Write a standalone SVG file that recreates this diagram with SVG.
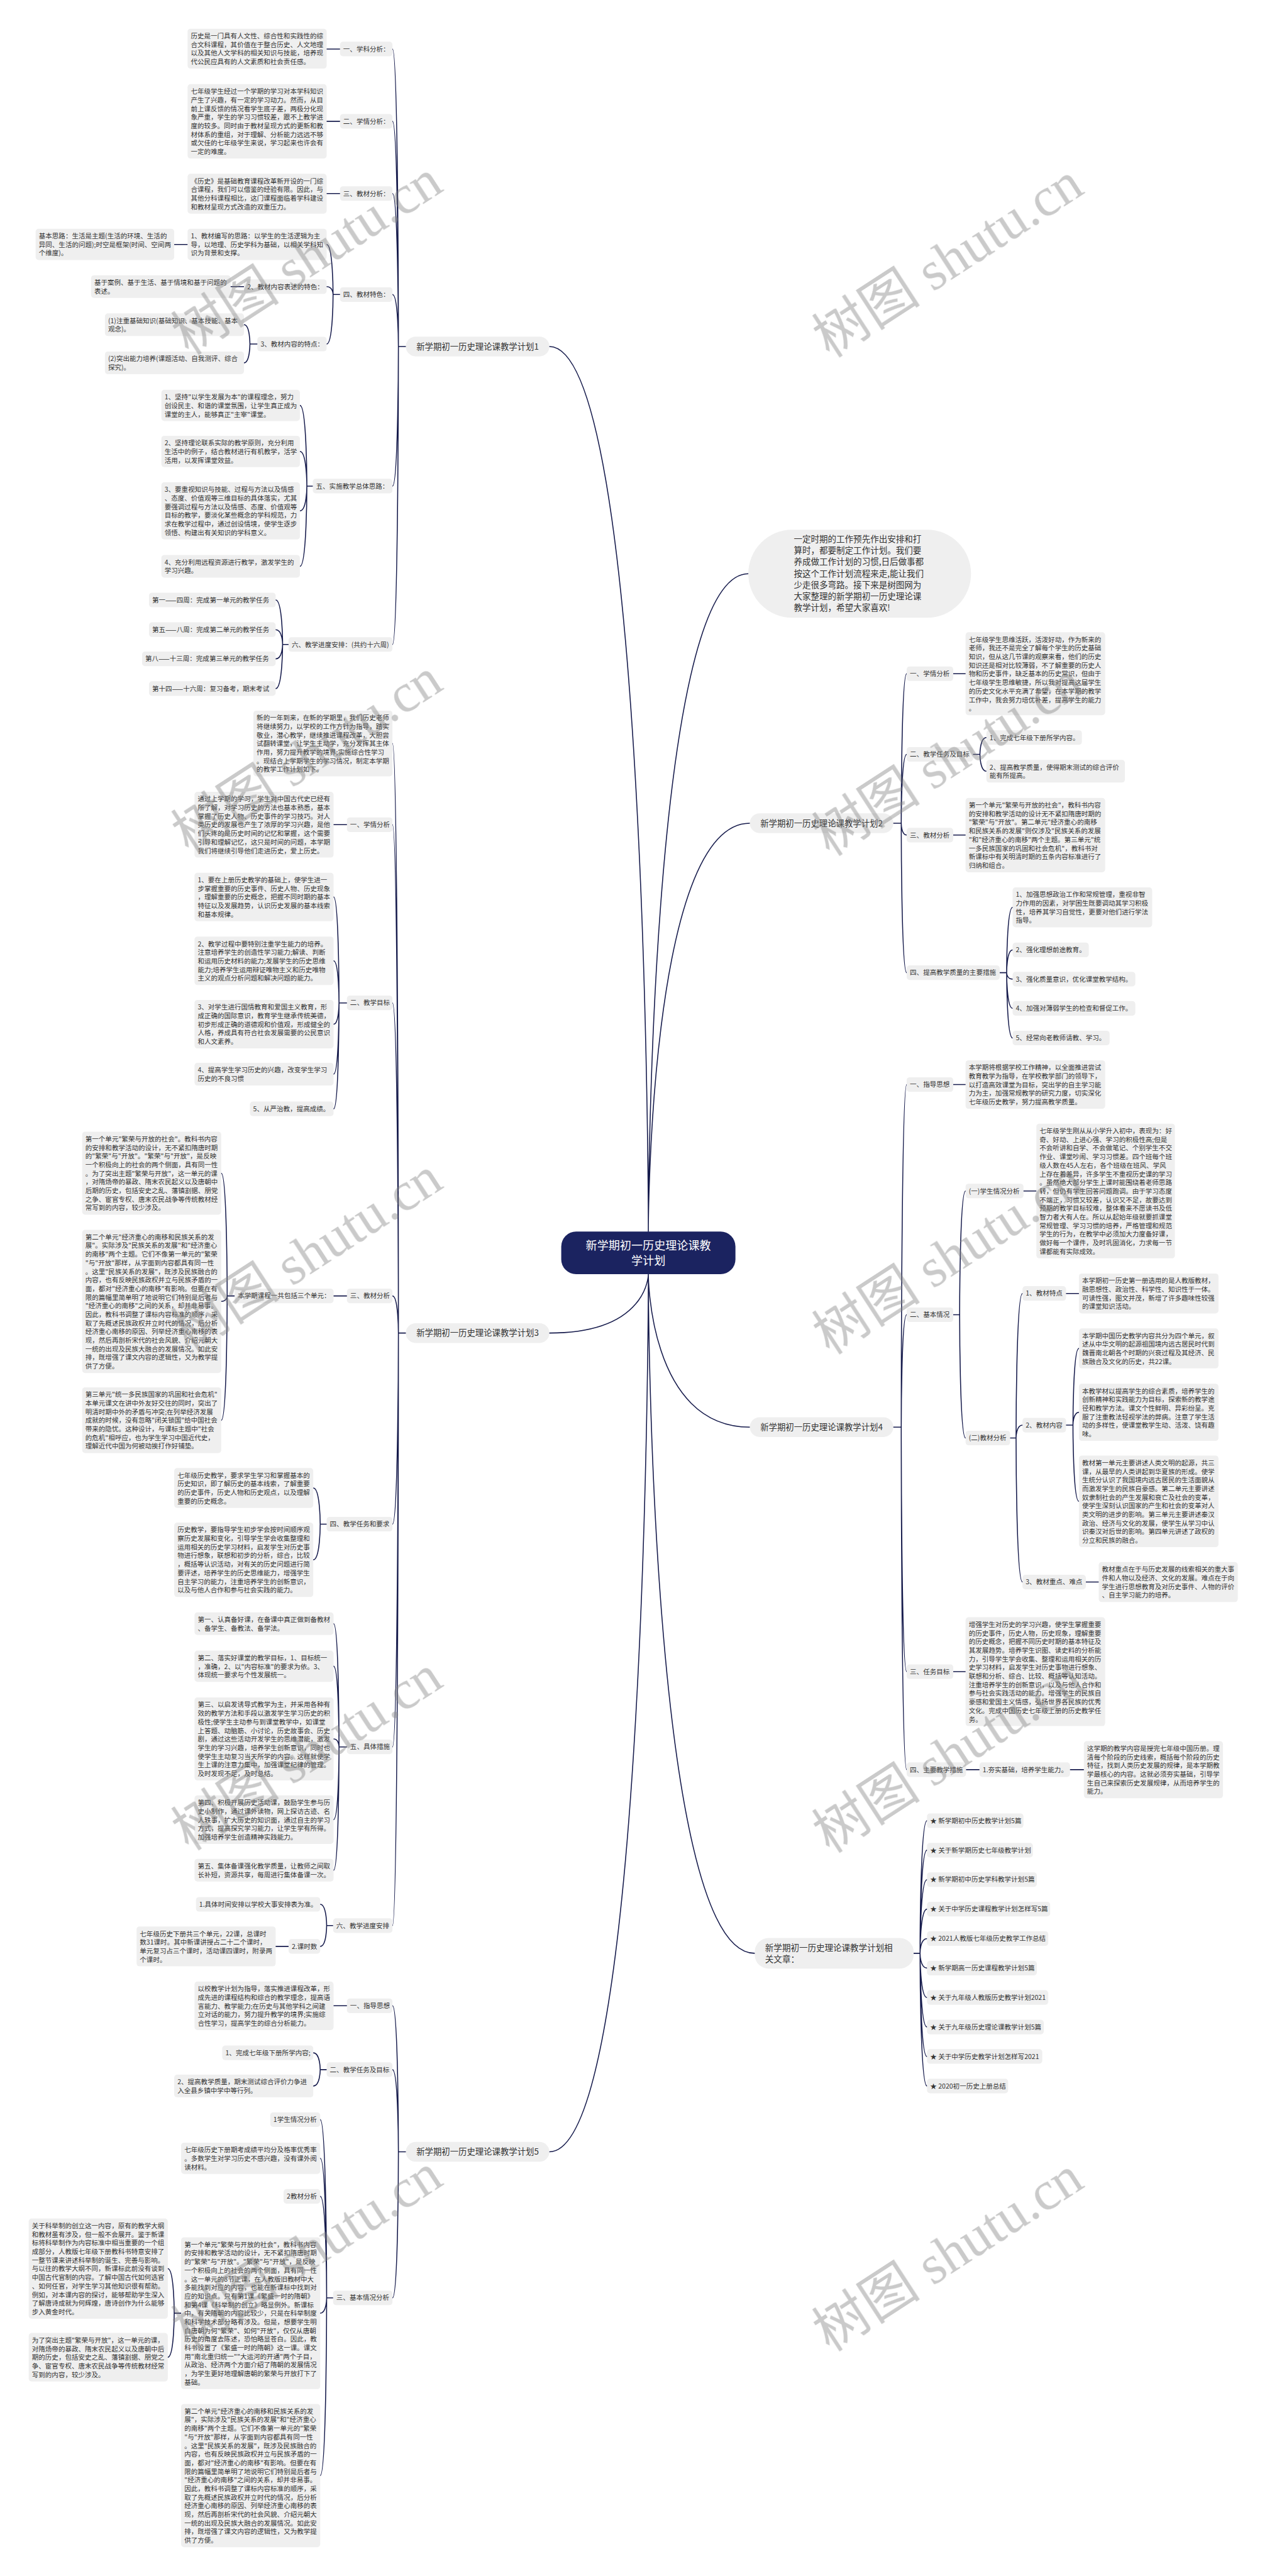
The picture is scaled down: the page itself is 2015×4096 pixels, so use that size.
<svg xmlns="http://www.w3.org/2000/svg" width="2015" height="4096" viewBox="0 0 2015 4096">
<defs><style>
.b{fill:#efefef}
.t{font-family:"Noto Sans CJK SC","Noto Sans",sans-serif;font-size:13.4px;fill:#333}
.p{font-family:"Noto Sans CJK SC","Noto Sans",sans-serif;font-size:17px;fill:#333;text-anchor:middle}
.q{font-family:"Noto Sans CJK SC","Noto Sans",sans-serif;font-size:17.2px;fill:#333}
.r{font-family:"Noto Sans CJK SC","Noto Sans",sans-serif;font-size:23px;fill:#fff;text-anchor:middle}
.c{fill:none;stroke:#161b4c;stroke-width:2;stroke-linecap:round}
.w{font-family:"Liberation Serif","Noto Sans CJK SC",serif;font-size:110px;fill:#808080;opacity:.42;text-anchor:middle}
</style></defs>
<rect width="2015" height="4096" fill="#fff"/>
<g transform="scale(0.7871)">
<g id="connectors" class="c">
<path d="M1310,2488C1310,2488 1310,700 1110,700M1310,2574C1310,2574 1310,2693 1110,2693M1310,2574C1310,2574 1310,4347 1110,4347M1310,2488C1310,2488 1310,1159 1512,1159M1310,2488C1310,2488 1310,1663 1515,1663M1310,2574C1310,2574 1310,2883 1515,2883M1310,2574C1310,2574 1310,3946 1525,3946"/>
<path d="M820,700H805C805,700 805,99 793,99M805,700C805,700 805,245 793,245M805,700C805,700 805,391 793,391M805,700C805,700 805,595 793,595M805,700C805,700 805,982 793,982M805,700C805,700 805,1302 793,1302"/>
<path d="M687,99H660M687,245H660M687,391H660M687,595H673C673,595 673,494 660,494M673,595C673,595 673,579 660,579M673,595C673,595 673,695 660,695M379,494H352M493,579H466M520,695H505C505,695 505,656 493,656M505,695C505,695 505,733 493,733M632,982H620C620,982 620,819 606,819M620,982C620,982 620,912 606,912M620,982C620,982 620,1032 606,1032M620,982C620,982 620,1144 606,1144M583,1302H571C571,1302 571,1212 557,1212M571,1302C571,1302 571,1272 557,1272M571,1302C571,1302 571,1331 557,1331M571,1302C571,1302 571,1391 557,1391"/>
<path d="M820,2693H805C805,2693 805,1502 793,1502M805,2693C805,2693 805,1666 793,1666M805,2693C805,2693 805,2026 793,2026M805,2693C805,2693 805,2618 793,2618M805,2693C805,2693 805,3079 793,3079M805,2693C805,2693 805,3529 793,3529M805,2693C805,2693 805,3890 793,3890"/>
<path d="M701,1666H674M701,2026H685C685,2026 685,1812 674,1812M685,2026C685,2026 685,1941 674,1941M685,2026C685,2026 685,2069 674,2069M685,2026C685,2026 685,2170 674,2170M685,2026C685,2026 685,2240 674,2240M701,2618H674M474,2618H459C459,2618 459,2370 447,2370M459,2618C459,2618 459,2629 447,2629M459,2618C459,2618 459,2869 447,2869M660,3079H647C647,3079 647,3006 633,3006M647,3079C647,3079 647,3151 633,3151M701,3529H685C685,3529 685,3280 674,3280M685,3529C685,3529 685,3366 674,3366M685,3529C685,3529 685,3513 674,3513M685,3529C685,3529 685,3676 674,3676M685,3529C685,3529 685,3778 674,3778M673,3890H660C660,3890 660,3847 647,3847M660,3890C660,3890 660,3932 647,3932M583,3932H557"/>
<path d="M820,4347H805C805,4347 805,4052 793,4052M805,4347C805,4347 805,4181 793,4181M805,4347C805,4347 805,4642 793,4642M701,4052H674M660,4181H647C647,4181 647,4147 633,4147M647,4181C647,4181 647,4214 633,4214M673,4642H660C660,4642 660,4282 647,4282M660,4642C660,4642 660,4360 647,4360M660,4642C660,4642 660,4437 647,4437M660,4642C660,4642 660,4673 647,4673M660,4642C660,4642 660,5001 647,5001M366,4673H352C352,4673 352,4583 339,4583M352,4673C352,4673 352,4762 339,4762"/>
<path d="M1805,1663H1821C1821,1663 1821,1361 1832,1361M1821,1663C1821,1663 1821,1524 1832,1524M1821,1663C1821,1663 1821,1687 1832,1687M1821,1663C1821,1663 1821,1965 1832,1965M1926,1361H1951M1926,1687H1951M1966,1524H1980C1980,1524 1980,1490 1993,1490M1980,1524C1980,1524 1980,1558 1993,1558M2020,1965H2034C2034,1965 2034,1833 2046,1833M2034,1965C2034,1965 2034,1919 2046,1919M2034,1965C2034,1965 2034,1978 2046,1978M2034,1965C2034,1965 2034,2037 2046,2037M2034,1965C2034,1965 2034,2097 2046,2097"/>
<path d="M1805,2883H1821C1821,2883 1821,2191 1832,2191M1821,2883C1821,2883 1821,2656 1832,2656M1821,2883C1821,2883 1821,3377 1832,3377M1821,2883C1821,2883 1821,3575 1832,3575M1926,2191H1951M1926,3377H1951M1926,2656H1939C1939,2656 1939,2406 1951,2406M1939,2656C1939,2656 1939,2905 1951,2905M2068,2406H2094M2041,2905H2053C2053,2905 2053,2613 2066,2613M2053,2905C2053,2905 2053,2879 2066,2879M2053,2905C2053,2905 2053,3196 2066,3196M2154,2613H2180M2154,2879H2168C2168,2879 2168,2724 2180,2724M2168,2879C2168,2879 2168,2853 2180,2853M2168,2879C2168,2879 2168,3033 2180,3033M2194,3196H2220M1951,3575H1979M2162,3575H2190"/>
<path d="M1846,3946H1859C1859,3946 1859,3678 1873,3678M1859,3946C1859,3946 1859,3737.6 1873,3737.6M1859,3946C1859,3946 1859,3797.1 1873,3797.1M1859,3946C1859,3946 1859,3856.7 1873,3856.7M1859,3946C1859,3946 1859,3916.2 1873,3916.2M1859,3946C1859,3946 1859,3975.8 1873,3975.8M1859,3946C1859,3946 1859,4035.3 1873,4035.3M1859,3946C1859,3946 1859,4094.9 1873,4094.9M1859,3946C1859,3946 1859,4154.4 1873,4154.4M1859,3946C1859,3946 1859,4214 1873,4214"/>
</g>

<g id="center"><rect x="1134" y="2488" width="352" height="86" rx="30" fill="#1b2360"/><text class="r" x="1310" y="2524.5">新学期初一历史理论课教<tspan x="1310" dy="30">学计划</tspan></text></g>

<g id="intro"><rect class="b" x="1512" y="1070" width="450" height="178" rx="89"/><text class="q" x="1604" y="1095.5">一定时期的工作预先作出安排和打<tspan x="1604" dy="23">算时，都要制定工作计划。我们要</tspan><tspan x="1604" dy="23">养成做工作计划的习惯,日后做事都</tspan><tspan x="1604" dy="23">按这个工作计划流程来走,能让我们</tspan><tspan x="1604" dy="23">少走很多弯路。接下来是树图网为</tspan><tspan x="1604" dy="23">大家整理的新学期初一历史理论课</tspan><tspan x="1604" dy="23">教学计划，希望大家喜欢!</tspan></text></g>

<!-- PLAN 1 -->
<g id="plan1"><rect class="b" x="820" y="680" width="290" height="40" rx="20"/><text class="p" x="965" y="706">新学期初一历史理论课教学计划1</text></g>
<g id="p1-l1"><rect class="b" x="687" y="84.3" width="106" height="29.4" rx="6"/><text class="t" x="693.5" y="103.8">一、学科分析：</text></g>
<g id="p1-b1"><rect class="b" x="379" y="58" width="281" height="80.6" rx="6"/><text class="t" x="385.5" y="77.5">历史是一门具有人文性、综合性和实践性的综<tspan x="385.5" dy="17.4">合文科课程，其价值在于整合历史、人文地理</tspan><tspan x="385.5" dy="17.4">以及其他人文学科的相关知识与技能，培养现</tspan><tspan x="385.5" dy="17.4">代公民应具有的人文素质和社会责任感。</tspan></text></g>
<g id="p1-l2"><rect class="b" x="687" y="230.3" width="106" height="29.4" rx="6"/><text class="t" x="693.5" y="249.8">二、学情分析：</text></g>
<g id="p1-b2"><rect class="b" x="379" y="170" width="281" height="150.2" rx="6"/><text class="t" x="385.5" y="189.5">七年级学生经过一个学期的学习对本学科知识<tspan x="385.5" dy="17.4">产生了兴趣，有一定的学习动力。然而，从目</tspan><tspan x="385.5" dy="17.4">前上课反馈的情况看学生底子差，两极分化现</tspan><tspan x="385.5" dy="17.4">象严重，学生的学习习惯较差，跟不上教学进</tspan><tspan x="385.5" dy="17.4">度的较多。同时由于教材呈现方式的更新和教</tspan><tspan x="385.5" dy="17.4">材体系的重组，对于理解、分析能力远远不够</tspan><tspan x="385.5" dy="17.4">或欠佳的七年级学生来说，学习起来也许会有</tspan><tspan x="385.5" dy="17.4">一定的难度。</tspan></text></g>
<g id="p1-l3"><rect class="b" x="687" y="376.3" width="106" height="29.4" rx="6"/><text class="t" x="693.5" y="395.8">三、教材分析：</text></g>
<g id="p1-b3"><rect class="b" x="379" y="351" width="281" height="80.6" rx="6"/><text class="t" x="385.5" y="370.5">《历史》是基础教育课程改革新开设的一门综<tspan x="385.5" dy="17.4">合课程，我们可以借鉴的经验有限。因此，与</tspan><tspan x="385.5" dy="17.4">其他分科课程相比，这门课程面临着学科建设</tspan><tspan x="385.5" dy="17.4">和教材呈现方式改造的双重压力。</tspan></text></g>
<g id="p1-l4"><rect class="b" x="687" y="580.3" width="106" height="29.4" rx="6"/><text class="t" x="693.5" y="599.8">四、教材特色：</text></g>
<g id="p1-b41"><rect class="b" x="379" y="462" width="281" height="63.2" rx="6"/><text class="t" x="385.5" y="481.5">1、教材编写的思路：以学生的生活逻辑为主<tspan x="385.5" dy="17.4">导，以地理、历史学科为基础，以相关学科知</tspan><tspan x="385.5" dy="17.4">识为背景和支撑。</tspan></text></g>
<g id="p1-b41a"><rect class="b" x="72" y="462" width="280" height="63.2" rx="6"/><text class="t" x="78.5" y="481.5">基本思路：生活是主题(生活的环境、生活的<tspan x="78.5" dy="17.4">异同、生活的问题);时空是框架(时间、空间两</tspan><tspan x="78.5" dy="17.4">个维度)。</tspan></text></g>
<g id="p1-b42"><rect class="b" x="493" y="564.3" width="167" height="29.4" rx="6"/><text class="t" x="499.5" y="583.8">2、教材内容表述的特色：</text></g>
<g id="p1-b42a"><rect class="b" x="184" y="556.1" width="282" height="45.8" rx="6"/><text class="t" x="190.5" y="575.6">基于案例、基于生活、基于情境和基于问题的<tspan x="190.5" dy="17.4">表述。</tspan></text></g>
<g id="p1-b43"><rect class="b" x="520" y="680.3" width="140" height="29.4" rx="6"/><text class="t" x="526.5" y="699.8">3、教材内容的特点：</text></g>
<g id="p1-b43a"><rect class="b" x="212" y="633.1" width="281" height="45.8" rx="6"/><text class="t" x="218.5" y="652.6">(1)注重基础知识(基础知识、基本技能、基本<tspan x="218.5" dy="17.4">观念)。</tspan></text></g>
<g id="p1-b43b"><rect class="b" x="212" y="710.1" width="281" height="45.8" rx="6"/><text class="t" x="218.5" y="729.6">(2)突出能力培养(课题活动、自我测评、综合<tspan x="218.5" dy="17.4">探究)。</tspan></text></g>
<g id="p1-l5"><rect class="b" x="632" y="967.3" width="161" height="29.4" rx="6"/><text class="t" x="638.5" y="986.8">五、实施教学总体思路：</text></g>
<g id="p1-b51"><rect class="b" x="326" y="787.4" width="280" height="63.2" rx="6"/><text class="t" x="332.5" y="806.9">1、坚持"以学生发展为本"的课程理念，努力<tspan x="332.5" dy="17.4">创设民主、和谐的课堂氛围，让学生真正成为</tspan><tspan x="332.5" dy="17.4">课堂的主人，能够真正"主宰"课堂。</tspan></text></g>
<g id="p1-b52"><rect class="b" x="326" y="880.4" width="280" height="63.2" rx="6"/><text class="t" x="332.5" y="899.9">2、坚持理论联系实际的教学原则，充分利用<tspan x="332.5" dy="17.4">生活中的例子，结合教材进行有机教学，活学</tspan><tspan x="332.5" dy="17.4">活用，以发挥课堂效益。</tspan></text></g>
<g id="p1-b53"><rect class="b" x="326" y="974.3" width="280" height="115.4" rx="6"/><text class="t" x="332.5" y="993.8">3、要重视知识与技能、过程与方法以及情感<tspan x="332.5" dy="17.4">、态度、价值观等三维目标的具体落实，尤其</tspan><tspan x="332.5" dy="17.4">要强调过程与方法以及情感、态度、价值观等</tspan><tspan x="332.5" dy="17.4">目标的教学，要淡化某些概念的学科规范，力</tspan><tspan x="332.5" dy="17.4">求在教学过程中，通过创设情境，使学生逐步</tspan><tspan x="332.5" dy="17.4">领悟、构建出有关知识的学科意义。</tspan></text></g>
<g id="p1-b54"><rect class="b" x="326" y="1121.1" width="280" height="45.8" rx="6"/><text class="t" x="332.5" y="1140.6">4、充分利用远程资源进行教学，激发学生的<tspan x="332.5" dy="17.4">学习兴趣。</tspan></text></g>
<g id="p1-l6"><rect class="b" x="583" y="1287.3" width="210" height="29.4" rx="6"/><text class="t" x="589.5" y="1306.8">六、教学进度安排：(共约十六周)</text></g>
<g id="p1-b61"><rect class="b" x="301" y="1197.3" width="256" height="29.4" rx="6"/><text class="t" x="307.5" y="1216.8">第一——四周：完成第一单元的教学任务</text></g>
<g id="p1-b62"><rect class="b" x="301" y="1257.3" width="256" height="29.4" rx="6"/><text class="t" x="307.5" y="1276.8">第五——八周：完成第二单元的教学任务</text></g>
<g id="p1-b63"><rect class="b" x="287" y="1316.3" width="270" height="29.4" rx="6"/><text class="t" x="293.5" y="1335.8">第八——十三周：完成第三单元的教学任务</text></g>
<g id="p1-b64"><rect class="b" x="301" y="1376.3" width="256" height="29.4" rx="6"/><text class="t" x="307.5" y="1395.8">第十四——十六周：复习备考，期末考试</text></g>

<!-- PLAN 3 -->
<g id="plan3"><rect class="b" x="820" y="2673" width="290" height="40" rx="20"/><text class="p" x="965" y="2699">新学期初一历史理论课教学计划3</text></g>
<g id="p3-intro"><rect class="b" x="512" y="1435.6" width="281" height="132.8" rx="6"/><text class="t" x="518.5" y="1455.1">新的一年到来，在新的学期里，我们历史老师<tspan x="518.5" dy="17.4">将继续努力，以学校的工作方针为指导，踏实</tspan><tspan x="518.5" dy="17.4">敬业，潜心教学，继续推进课程改革，大胆尝</tspan><tspan x="518.5" dy="17.4">试翻转课堂，让学生主动学，充分发挥其主体</tspan><tspan x="518.5" dy="17.4">作用，努力提升教学的境界;实施综合性学习</tspan><tspan x="518.5" dy="17.4">。现结合上学期学生的学习情况，制定本学期</tspan><tspan x="518.5" dy="17.4">的教学工作计划如下。</tspan></text></g>
<g id="p3-l1"><rect class="b" x="701" y="1651.3" width="92" height="29.4" rx="6"/><text class="t" x="707.5" y="1670.8">一、学情分析</text></g>
<g id="p3-b1"><rect class="b" x="393" y="1599.6" width="281" height="132.8" rx="6"/><text class="t" x="399.5" y="1619.1">通过上学期的学习，学生对中国古代史已经有<tspan x="399.5" dy="17.4">所了解，对学习历史的方法也基本熟悉，基本</tspan><tspan x="399.5" dy="17.4">掌握了历史人物、历史事件的学习技巧。对人</tspan><tspan x="399.5" dy="17.4">类历史的发展也产生了浓厚的学习兴趣，是他</tspan><tspan x="399.5" dy="17.4">们头疼的是历史时间的记忆和掌握，这个需要</tspan><tspan x="399.5" dy="17.4">引导和理解记忆，这只是时间的问题，本学期</tspan><tspan x="399.5" dy="17.4">我们将继续引导他们走进历史，爱上历史。</tspan></text></g>
<g id="p3-l2"><rect class="b" x="701" y="2011.3" width="92" height="29.4" rx="6"/><text class="t" x="707.5" y="2030.8">二、教学目标</text></g>
<g id="p3-b21"><rect class="b" x="393" y="1763" width="281" height="98" rx="6"/><text class="t" x="399.5" y="1782.5">1、要在上册历史教学的基础上，使学生进一<tspan x="399.5" dy="17.4">步掌握重要的历史事件、历史人物、历史现象</tspan><tspan x="399.5" dy="17.4">，理解重要的历史概念，把握不同时期的基本</tspan><tspan x="399.5" dy="17.4">特征以及发展趋势，认识历史发展的基本线索</tspan><tspan x="399.5" dy="17.4">和基本规律。</tspan></text></g>
<g id="p3-b22"><rect class="b" x="393" y="1892" width="281" height="98" rx="6"/><text class="t" x="399.5" y="1911.5">2、教学过程中要特别注重学生能力的培养。<tspan x="399.5" dy="17.4">注意培养学生的创造性学习能力;解读、判断</tspan><tspan x="399.5" dy="17.4">和运用历史材料的能力;发展学生的历史思维</tspan><tspan x="399.5" dy="17.4">能力;培养学生运用辩证唯物主义和历史唯物</tspan><tspan x="399.5" dy="17.4">主义的观点分析问题和解决问题的能力。</tspan></text></g>
<g id="p3-b23"><rect class="b" x="393" y="2020" width="281" height="98" rx="6"/><text class="t" x="399.5" y="2039.5">3、对学生进行国情教育和爱国主义教育，形<tspan x="399.5" dy="17.4">成正确的国际意识，教育学生继承传统美德，</tspan><tspan x="399.5" dy="17.4">初步形成正确的道德观和价值观，形成健全的</tspan><tspan x="399.5" dy="17.4">人格，养成具有符合社会发展需要的公民意识</tspan><tspan x="399.5" dy="17.4">和人文素养。</tspan></text></g>
<g id="p3-b24"><rect class="b" x="393" y="2147.1" width="281" height="45.8" rx="6"/><text class="t" x="399.5" y="2166.6">4、提高学生学习历史的兴趣，改变学生学习<tspan x="399.5" dy="17.4">历史的不良习惯</tspan></text></g>
<g id="p3-b25"><rect class="b" x="505" y="2225.3" width="169" height="29.4" rx="6"/><text class="t" x="511.5" y="2244.8">5、从严治教，提高成绩。</text></g>
<g id="p3-l3"><rect class="b" x="701" y="2603.3" width="92" height="29.4" rx="6"/><text class="t" x="707.5" y="2622.8">三、教材分析</text></g>
<g id="p3-b3"><rect class="b" x="474" y="2603.3" width="200" height="29.4" rx="6"/><text class="t" x="480.5" y="2622.8">本学期课程一共包括三个单元：</text></g>
<g id="p3-b31"><rect class="b" x="166" y="2286.2" width="281" height="167.6" rx="6"/><text class="t" x="172.5" y="2305.7">第一个单元"繁荣与开放的社会"。教科书内容<tspan x="172.5" dy="17.4">的安排和教学活动的设计，无不紧扣隋唐时期</tspan><tspan x="172.5" dy="17.4">的"繁荣"与"开放"。"繁荣"与"开放"，是反映</tspan><tspan x="172.5" dy="17.4">一个积极向上的社会的两个侧面，具有同一性</tspan><tspan x="172.5" dy="17.4">。为了突出主题"繁荣与开放"，这一单元的课</tspan><tspan x="172.5" dy="17.4">，对隋炀帝的暴政、隋末农民起义以及唐朝中</tspan><tspan x="172.5" dy="17.4">后期的历史，包括安史之乱、藩镇割据、朋党</tspan><tspan x="172.5" dy="17.4">之争、宦官专权、唐末农民战争等传统教材经</tspan><tspan x="172.5" dy="17.4">常写到的内容，较少涉及。</tspan></text></g>
<g id="p3-b32"><rect class="b" x="166" y="2484.3" width="281" height="289.4" rx="6"/><text class="t" x="172.5" y="2503.8">第二个单元"经济重心的南移和民族关系的发<tspan x="172.5" dy="17.4">展"。实际涉及"民族关系的发展"和"经济重心</tspan><tspan x="172.5" dy="17.4">的南移"两个主题。它们不像第一单元的"繁荣</tspan><tspan x="172.5" dy="17.4">"与"开放"那样，从字面到内容都具有同一性</tspan><tspan x="172.5" dy="17.4">。这里"民族关系的发展"，既涉及民族融合的</tspan><tspan x="172.5" dy="17.4">内容，也有反映民族政权并立与民族矛盾的一</tspan><tspan x="172.5" dy="17.4">面，都对"经济重心的南移"有影响。但要在有</tspan><tspan x="172.5" dy="17.4">限的篇幅里简单明了地说明它们特别是后者与</tspan><tspan x="172.5" dy="17.4">"经济重心的南移"之间的关系，却并非易事。</tspan><tspan x="172.5" dy="17.4">因此，教科书调整了课标内容标准的顺序，采</tspan><tspan x="172.5" dy="17.4">取了先概述民族政权并立时代的情况，后分析</tspan><tspan x="172.5" dy="17.4">经济重心南移的原因、列举经济重心南移的表</tspan><tspan x="172.5" dy="17.4">现，然后再剖析宋代的社会风貌、介绍元朝大</tspan><tspan x="172.5" dy="17.4">一统的出现及民族大融合的发展情况。如此安</tspan><tspan x="172.5" dy="17.4">排，既增强了课文内容的逻辑性，又为教学提</tspan><tspan x="172.5" dy="17.4">供了方便。</tspan></text></g>
<g id="p3-b33"><rect class="b" x="166" y="2802.6" width="281" height="132.8" rx="6"/><text class="t" x="172.5" y="2822.1">第三单元"统一多民族国家的巩固和社会危机"<tspan x="172.5" dy="17.4">本单元课文在讲中外友好交往的同时，突出了</tspan><tspan x="172.5" dy="17.4">明清时期中外的矛盾与冲突;在列举经济发展</tspan><tspan x="172.5" dy="17.4">成就的时候，没有忽略"闭关锁国"给中国社会</tspan><tspan x="172.5" dy="17.4">带来的隐忧。这种设计，与课标主题中"社会</tspan><tspan x="172.5" dy="17.4">的危机"相呼应，也为学生学习中国近代史，</tspan><tspan x="172.5" dy="17.4">理解近代中国为何被动挨打作好铺垫。</tspan></text></g>
<g id="p3-l4"><rect class="b" x="660" y="3064.3" width="133" height="29.4" rx="6"/><text class="t" x="666.5" y="3083.8">四、教学任务和要求</text></g>
<g id="p3-b41"><rect class="b" x="352" y="2965.7" width="281" height="80.6" rx="6"/><text class="t" x="358.5" y="2985.2">七年级历史教学，要求学生学习和掌握基本的<tspan x="358.5" dy="17.4">历史知识，即了解历史的基本线索，了解重要</tspan><tspan x="358.5" dy="17.4">的历史事件，历史人物和历史观点，以及理解</tspan><tspan x="358.5" dy="17.4">重要的历史概念。</tspan></text></g>
<g id="p3-b42"><rect class="b" x="352" y="3075.9" width="281" height="150.2" rx="6"/><text class="t" x="358.5" y="3095.4">历史教学，要指导学生初步学会按时间顺序观<tspan x="358.5" dy="17.4">察历史发展和变化，引导学生学会收集整理和</tspan><tspan x="358.5" dy="17.4">运用相关的历史学习材料，启发学生对历史事</tspan><tspan x="358.5" dy="17.4">物进行想象，联想和初步的分析，综合，比较</tspan><tspan x="358.5" dy="17.4">，概括等认识活动，对有关的历史问题进行简</tspan><tspan x="358.5" dy="17.4">要评述，培养学生的历史思维能力，增强学生</tspan><tspan x="358.5" dy="17.4">自主学习的能力，注重培养学生的创新意识，</tspan><tspan x="358.5" dy="17.4">以及与他人合作和参与社会实践的能力。</tspan></text></g>
<g id="p3-l5"><rect class="b" x="701" y="3514.3" width="92" height="29.4" rx="6"/><text class="t" x="707.5" y="3533.8">五、具体措施</text></g>
<g id="p3-b51"><rect class="b" x="393" y="3257.1" width="281" height="45.8" rx="6"/><text class="t" x="399.5" y="3276.6">第一、认真备好课，在备课中真正做到备教材<tspan x="399.5" dy="17.4">、备学生、备教法、备学法。</tspan></text></g>
<g id="p3-b52"><rect class="b" x="393" y="3334.4" width="281" height="63.2" rx="6"/><text class="t" x="399.5" y="3353.9">第二、落实好课堂的教学目标，1、目标统一<tspan x="399.5" dy="17.4">，准确，2、以"内容标准"的要求为依。3、</tspan><tspan x="399.5" dy="17.4">体现统一要求与个性发展统一。</tspan></text></g>
<g id="p3-b53"><rect class="b" x="393" y="3429.2" width="281" height="167.6" rx="6"/><text class="t" x="399.5" y="3448.7">第三、以启发诱导式教学为主，并采用各种有<tspan x="399.5" dy="17.4">效的教学方法和手段以激发学生学习历史的积</tspan><tspan x="399.5" dy="17.4">极性;使学生主动参与到课堂教学中，如课堂</tspan><tspan x="399.5" dy="17.4">上答题、动脑筋、小讨论，历史故事会、历史</tspan><tspan x="399.5" dy="17.4">剧，通过这些活动开发学生的思维潜能，激发</tspan><tspan x="399.5" dy="17.4">学生的学习兴趣，培养学生创新意识，同时也</tspan><tspan x="399.5" dy="17.4">使学生主动复习当天所学的内容。这样就使学</tspan><tspan x="399.5" dy="17.4">生上课的注意力集中，加强课堂纪律的管理。</tspan><tspan x="399.5" dy="17.4">及时发现不足，及时总结。</tspan></text></g>
<g id="p3-b54"><rect class="b" x="393" y="3627" width="281" height="98" rx="6"/><text class="t" x="399.5" y="3646.5">第四、积极开展历史活动课，鼓励学生参与历<tspan x="399.5" dy="17.4">史小制作，通过课外读物，网上探访古迹、名</tspan><tspan x="399.5" dy="17.4">人轶事，扩大历史的知识面，通过自主的学习</tspan><tspan x="399.5" dy="17.4">方式，提高探究学习能力，让学生学有所得。</tspan><tspan x="399.5" dy="17.4">加强培养学生创造精神实践能力。</tspan></text></g>
<g id="p3-b55"><rect class="b" x="393" y="3755.1" width="281" height="45.8" rx="6"/><text class="t" x="399.5" y="3774.6">第五、集体备课强化教学质量，让教师之间取<tspan x="399.5" dy="17.4">长补短，资源共享，每周进行集体备课一次。</tspan></text></g>
<g id="p3-l6"><rect class="b" x="673" y="3875.3" width="120" height="29.4" rx="6"/><text class="t" x="679.5" y="3894.8">六、教学进度安排</text></g>
<g id="p3-b61"><rect class="b" x="396" y="3832.3" width="251" height="29.4" rx="6"/><text class="t" x="402.5" y="3851.8">1.具体时间安排以学校大事安排表为准。</text></g>
<g id="p3-b62"><rect class="b" x="583" y="3917.3" width="64" height="29.4" rx="6"/><text class="t" x="589.5" y="3936.8">2.课时数</text></g>
<g id="p3-b62a"><rect class="b" x="276" y="3891.7" width="281" height="80.6" rx="6"/><text class="t" x="282.5" y="3911.2">七年级历史下册共三个单元，22课，总课时<tspan x="282.5" dy="17.4">数31课时。其中新课讲授占二十二个课时，</tspan><tspan x="282.5" dy="17.4">单元复习占三个课时，活动课四课时，附录两</tspan><tspan x="282.5" dy="17.4">个课时。</tspan></text></g>

<!-- PLAN 5 -->
<g id="plan5"><rect class="b" x="820" y="4327" width="290" height="40" rx="20"/><text class="p" x="965" y="4353">新学期初一历史理论课教学计划5</text></g>
<g id="p5-l1"><rect class="b" x="701" y="4037.3" width="92" height="29.4" rx="6"/><text class="t" x="707.5" y="4056.8">一、指导思想</text></g>
<g id="p5-b1"><rect class="b" x="393" y="4003" width="281" height="98" rx="6"/><text class="t" x="399.5" y="4022.5">以校教学计划为指导，落实推进课程改革，形<tspan x="399.5" dy="17.4">成先进的课程结构和综合的教学理念，提高语</tspan><tspan x="399.5" dy="17.4">言能力、教学能力;在历史与其他学科之间建</tspan><tspan x="399.5" dy="17.4">立对话的能力，努力提升教学的境界;实施综</tspan><tspan x="399.5" dy="17.4">合性学习，提高学生的综合分析能力。</tspan></text></g>
<g id="p5-l2"><rect class="b" x="660" y="4166.3" width="133" height="29.4" rx="6"/><text class="t" x="666.5" y="4185.8">二、教学任务及目标</text></g>
<g id="p5-b21"><rect class="b" x="449" y="4132.3" width="184" height="29.4" rx="6"/><text class="t" x="455.5" y="4151.8">1、完成七年级下册所学内容;</text></g>
<g id="p5-b22"><rect class="b" x="352" y="4191.1" width="281" height="45.8" rx="6"/><text class="t" x="358.5" y="4210.6">2、提高教学质量，期末测试综合评价力争进<tspan x="358.5" dy="17.4">入全县乡镇中学中等行列。</tspan></text></g>
<g id="p5-l3"><rect class="b" x="673" y="4627.3" width="120" height="29.4" rx="6"/><text class="t" x="679.5" y="4646.8">三、基本情况分析</text></g>
<g id="p5-b31"><rect class="b" x="546" y="4267.3" width="101" height="29.4" rx="6"/><text class="t" x="552.5" y="4286.8">1学生情况分析</text></g>
<g id="p5-b32"><rect class="b" x="366" y="4328.4" width="281" height="63.2" rx="6"/><text class="t" x="372.5" y="4347.9">七年级历史下册期考成绩平均分及格率优秀率<tspan x="372.5" dy="17.4">。多数学生对学习历史不感兴趣，没有课外阅</tspan><tspan x="372.5" dy="17.4">读材料。</tspan></text></g>
<g id="p5-b33"><rect class="b" x="573" y="4422.3" width="74" height="29.4" rx="6"/><text class="t" x="579.5" y="4441.8">2教材分析</text></g>
<g id="p5-b34"><rect class="b" x="366" y="4519.6" width="281" height="306.8" rx="6"/><text class="t" x="372.5" y="4539.1">第一个单元"繁荣与开放的社会"，教科书内容<tspan x="372.5" dy="17.4">的安排和教学活动的设计，无不紧扣隋唐时期</tspan><tspan x="372.5" dy="17.4">的"繁荣"与"开放"。"繁荣"与"开放"，是反映</tspan><tspan x="372.5" dy="17.4">一个积极向上的社会的两个侧面，具有同一性</tspan><tspan x="372.5" dy="17.4">。这一单元的8节正课，在人教版旧教材中大</tspan><tspan x="372.5" dy="17.4">多能找到对应的内容，也能在新课标中找到对</tspan><tspan x="372.5" dy="17.4">应的知识点。只有第1课《繁盛一时的隋朝》</tspan><tspan x="372.5" dy="17.4">和第4课《科举制的创立》略显例外。新课标</tspan><tspan x="372.5" dy="17.4">中，有关隋朝的内容比较少，只是在科举制度</tspan><tspan x="372.5" dy="17.4">和科学技术部分略有涉及。但是，想要学生明</tspan><tspan x="372.5" dy="17.4">白唐朝为何"繁荣"、如何"开放"，仅仅从唐朝</tspan><tspan x="372.5" dy="17.4">历史的角度去陈述，恐怕略显苍白。因此，教</tspan><tspan x="372.5" dy="17.4">科书设置了《繁盛一时的隋朝》这一课。课文</tspan><tspan x="372.5" dy="17.4">用"南北重归统一""大运河的开通"两个子目，</tspan><tspan x="372.5" dy="17.4">从政治、经济两个方面介绍了隋朝的发展情况</tspan><tspan x="372.5" dy="17.4">，为学生更好地理解唐朝的繁荣与开放打下了</tspan><tspan x="372.5" dy="17.4">基础。</tspan></text></g>
<g id="p5-b34a"><rect class="b" x="58" y="4481.8" width="281" height="202.4" rx="6"/><text class="t" x="64.5" y="4501.3">关于科举制的创立这一内容，原有的教学大纲<tspan x="64.5" dy="17.4">和教材虽有涉及，但一般不会展开。鉴于新课</tspan><tspan x="64.5" dy="17.4">标将科举制作为内容标准中相当重要的一个组</tspan><tspan x="64.5" dy="17.4">成部分，人教版七年级下册教科书特意安排了</tspan><tspan x="64.5" dy="17.4">一整节课来讲述科举制的诞生、完善与影响。</tspan><tspan x="64.5" dy="17.4">与以往的教学大纲不同，新课标此前没有谈到</tspan><tspan x="64.5" dy="17.4">中国古代官制的内容。了解中国古代如何选官</tspan><tspan x="64.5" dy="17.4">、如何任官，对学生学习其他知识很有帮助。</tspan><tspan x="64.5" dy="17.4">例如，对本课内容的探讨，能够帮助学生深入</tspan><tspan x="64.5" dy="17.4">了解唐诗成就为何辉煌，唐诗创作为什么能够</tspan><tspan x="64.5" dy="17.4">步入黄金时代。</tspan></text></g>
<g id="p5-b34b"><rect class="b" x="58" y="4713" width="281" height="98" rx="6"/><text class="t" x="64.5" y="4732.5">为了突出主题"繁荣与开放"，这一单元的课，<tspan x="64.5" dy="17.4">对隋炀帝的暴政、隋末农民起义以及唐朝中后</tspan><tspan x="64.5" dy="17.4">期的历史，包括安史之乱、藩镇割据、朋党之</tspan><tspan x="64.5" dy="17.4">争、宦官专权、唐末农民战争等传统教材经常</tspan><tspan x="64.5" dy="17.4">写到的内容，较少涉及。</tspan></text></g>
<g id="p5-b35"><rect class="b" x="366" y="4856.3" width="281" height="289.4" rx="6"/><text class="t" x="372.5" y="4875.8">第二个单元"经济重心的南移和民族关系的发<tspan x="372.5" dy="17.4">展"，实际涉及"民族关系的发展"和"经济重心</tspan><tspan x="372.5" dy="17.4">的南移"两个主题。它们不像第一单元的"繁荣</tspan><tspan x="372.5" dy="17.4">"与"开放"那样，从字面到内容都具有同一性</tspan><tspan x="372.5" dy="17.4">。这里"民族关系的发展"，既涉及民族融合的</tspan><tspan x="372.5" dy="17.4">内容，也有反映民族政权并立与民族矛盾的一</tspan><tspan x="372.5" dy="17.4">面，都对"经济重心的南移"有影响。但要在有</tspan><tspan x="372.5" dy="17.4">限的篇幅里简单明了地说明它们特别是后者与</tspan><tspan x="372.5" dy="17.4">"经济重心的南移"之间的关系，却并非易事。</tspan><tspan x="372.5" dy="17.4">因此，教科书调整了课标内容标准的顺序，采</tspan><tspan x="372.5" dy="17.4">取了先概述民族政权并立时代的情况，后分析</tspan><tspan x="372.5" dy="17.4">经济重心南移的原因、列举经济重心南移的表</tspan><tspan x="372.5" dy="17.4">现，然后再剖析宋代的社会风貌、介绍元朝大</tspan><tspan x="372.5" dy="17.4">一统的出现及民族大融合的发展情况。如此安</tspan><tspan x="372.5" dy="17.4">排，既增强了课文内容的逻辑性，又为教学提</tspan><tspan x="372.5" dy="17.4">供了方便。</tspan></text></g>

<!-- PLAN 2 -->
<g id="plan2"><rect class="b" x="1515" y="1643" width="290" height="40" rx="20"/><text class="p" x="1660" y="1669">新学期初一历史理论课教学计划2</text></g>
<g id="p2-l1"><rect class="b" x="1832" y="1346.3" width="94" height="29.4" rx="6"/><text class="t" x="1838.5" y="1365.8">一、学情分析</text></g>
<g id="p2-b1"><rect class="b" x="1951" y="1277.2" width="282" height="167.6" rx="6"/><text class="t" x="1957.5" y="1296.7">七年级学生思维活跃，活泼好动，作为新来的<tspan x="1957.5" dy="17.4">老师，我还不是完全了解每个学生的历史基础</tspan><tspan x="1957.5" dy="17.4">知识，但从这几节课的观察来看，他们的历史</tspan><tspan x="1957.5" dy="17.4">知识还是相对比较薄弱，不了解重要的历史人</tspan><tspan x="1957.5" dy="17.4">物和历史事件，缺乏基本的历史常识，但由于</tspan><tspan x="1957.5" dy="17.4">七年级学生思维敏捷，所以我对提高这届学生</tspan><tspan x="1957.5" dy="17.4">的历史文化水平充满了希望，在本学期的教学</tspan><tspan x="1957.5" dy="17.4">工作中，我会努力培优补差，提高学生的能力</tspan><tspan x="1957.5" dy="17.4">。</tspan></text></g>
<g id="p2-l2"><rect class="b" x="1832" y="1509.3" width="134" height="29.4" rx="6"/><text class="t" x="1838.5" y="1528.8">二、教学任务及目标</text></g>
<g id="p2-b21"><rect class="b" x="1993" y="1475.3" width="193" height="29.4" rx="6"/><text class="t" x="1999.5" y="1494.8">1、完成七年级下册所学内容。</text></g>
<g id="p2-b22"><rect class="b" x="1993" y="1535.1" width="280" height="45.8" rx="6"/><text class="t" x="1999.5" y="1554.6">2、提高教学质量，使得期末测试的综合评价<tspan x="1999.5" dy="17.4">能有所提高。</tspan></text></g>
<g id="p2-l3"><rect class="b" x="1832" y="1672.3" width="94" height="29.4" rx="6"/><text class="t" x="1838.5" y="1691.8">三、教材分析</text></g>
<g id="p2-b3"><rect class="b" x="1951" y="1611.9" width="282" height="150.2" rx="6"/><text class="t" x="1957.5" y="1631.4">第一个单元"繁荣与开放的社会"，教科书内容<tspan x="1957.5" dy="17.4">的安排和教学活动的设计无不紧扣隋唐时期的</tspan><tspan x="1957.5" dy="17.4">"繁荣"与"开放"。第二单元"经济重心的南移</tspan><tspan x="1957.5" dy="17.4">和民族关系的发展"则仅涉及"民族关系的发展</tspan><tspan x="1957.5" dy="17.4">"和"经济重心的南移"两个主题。第三单元"统</tspan><tspan x="1957.5" dy="17.4">一多民族国家的巩固和社会危机"，教科书对</tspan><tspan x="1957.5" dy="17.4">新课标中有关明清时期的五条内容标准进行了</tspan><tspan x="1957.5" dy="17.4">归纳和组合。</tspan></text></g>
<g id="p2-l4"><rect class="b" x="1832" y="1950.3" width="188" height="29.4" rx="6"/><text class="t" x="1838.5" y="1969.8">四、提高教学质量的主要措施</text></g>
<g id="p2-b41"><rect class="b" x="2046" y="1792.7" width="282" height="80.6" rx="6"/><text class="t" x="2052.5" y="1812.2">1、加强思想政治工作和常规管理，重视非智<tspan x="2052.5" dy="17.4">力作用的因素，对学困生既要调动其学习积极</tspan><tspan x="2052.5" dy="17.4">性，培养其学习自觉性，更要对他们进行学法</tspan><tspan x="2052.5" dy="17.4">指导。</tspan></text></g>
<g id="p2-b42"><rect class="b" x="2046" y="1904.3" width="154" height="29.4" rx="6"/><text class="t" x="2052.5" y="1923.8">2、强化理想前途教育。</text></g>
<g id="p2-b43"><rect class="b" x="2046" y="1963.3" width="248" height="29.4" rx="6"/><text class="t" x="2052.5" y="1982.8">3、强化质量意识，优化课堂教学结构。</text></g>
<g id="p2-b44"><rect class="b" x="2046" y="2022.3" width="248" height="29.4" rx="6"/><text class="t" x="2052.5" y="2041.8">4、加强对薄弱学生的检查和督促工作。</text></g>
<g id="p2-b45"><rect class="b" x="2046" y="2082.3" width="196" height="29.4" rx="6"/><text class="t" x="2052.5" y="2101.8">5、经常向老教师请教、学习。</text></g>

<!-- PLAN 4 -->
<g id="plan4"><rect class="b" x="1515" y="2863" width="290" height="40" rx="20"/><text class="p" x="1660" y="2889">新学期初一历史理论课教学计划4</text></g>
<g id="p4-l1"><rect class="b" x="1832" y="2176.3" width="94" height="29.4" rx="6"/><text class="t" x="1838.5" y="2195.8">一、指导思想</text></g>
<g id="p4-b1"><rect class="b" x="1951" y="2142" width="282" height="98" rx="6"/><text class="t" x="1957.5" y="2161.5">本学期将根据学校工作精神，以全面推进尝试<tspan x="1957.5" dy="17.4">教育教学为指导，在学校教学部门的领导下，</tspan><tspan x="1957.5" dy="17.4">以打造高效课堂为目标，突出学的自主学习能</tspan><tspan x="1957.5" dy="17.4">力为主，加强常规教学的研究力度，切实深化</tspan><tspan x="1957.5" dy="17.4">七年级历史教学，努力提高教学质量。</tspan></text></g>
<g id="p4-l2"><rect class="b" x="1832" y="2641.3" width="94" height="29.4" rx="6"/><text class="t" x="1838.5" y="2660.8">二、基本情况</text></g>
<g id="p4-b21"><rect class="b" x="1951" y="2391.3" width="117" height="29.4" rx="6"/><text class="t" x="1957.5" y="2410.8">(一)学生情况分析</text></g>
<g id="p4-b21a"><rect class="b" x="2094" y="2270" width="280" height="272" rx="6"/><text class="t" x="2100.5" y="2289.5">七年级学生刚从从小学升入初中，表现为：好<tspan x="2100.5" dy="17.4">奇、好动、上进心强、学习的积极性高;但是</tspan><tspan x="2100.5" dy="17.4">不会听讲和自学、不会做笔记、个别学生不交</tspan><tspan x="2100.5" dy="17.4">作业、课堂吵闹、学习习惯差。四个班每个班</tspan><tspan x="2100.5" dy="17.4">级人数在45人左右，各个班级在班风、学风</tspan><tspan x="2100.5" dy="17.4">上存在着差异，许多学生不重视历史课的学习</tspan><tspan x="2100.5" dy="17.4">。虽然绝大部分学生上课时能围绕着老师思路</tspan><tspan x="2100.5" dy="17.4">转，但仍有学生回答问题跑调。由于学习态度</tspan><tspan x="2100.5" dy="17.4">不端正，习惯又较差，认识又不足，故要达到</tspan><tspan x="2100.5" dy="17.4">预期的教学目标较难，整体看来不愿读书及低</tspan><tspan x="2100.5" dy="17.4">智力者大有人在。所以从起始年级就要抓课堂</tspan><tspan x="2100.5" dy="17.4">常规管理、学习习惯的培养，严格管理和规范</tspan><tspan x="2100.5" dy="17.4">学生的行为，在教学中必须加大力度备好课，</tspan><tspan x="2100.5" dy="17.4">做好每一个课件，及时巩固消化，力求每一节</tspan><tspan x="2100.5" dy="17.4">课都能有实际成效。</tspan></text></g>
<g id="p4-b22"><rect class="b" x="1951" y="2890.3" width="90" height="29.4" rx="6"/><text class="t" x="1957.5" y="2909.8">(二)教材分析</text></g>
<g id="p4-b221"><rect class="b" x="2066" y="2598.3" width="88" height="29.4" rx="6"/><text class="t" x="2072.5" y="2617.8">1、教材特点</text></g>
<g id="p4-b221a"><rect class="b" x="2180" y="2572.7" width="282" height="80.6" rx="6"/><text class="t" x="2186.5" y="2592.2">本学期初一历史第一册选用的是人教版教材，<tspan x="2186.5" dy="17.4">融思想性、政治性、科学性、知识性于一体。</tspan><tspan x="2186.5" dy="17.4">可读性强，图文并茂，新增了许多趣味性较强</tspan><tspan x="2186.5" dy="17.4">的课堂知识活动。</tspan></text></g>
<g id="p4-b222"><rect class="b" x="2066" y="2864.3" width="88" height="29.4" rx="6"/><text class="t" x="2072.5" y="2883.8">2、教材内容</text></g>
<g id="p4-b222a"><rect class="b" x="2180" y="2683.7" width="282" height="80.6" rx="6"/><text class="t" x="2186.5" y="2703.2">本学期中国历史教学内容共分为四个单元，叙<tspan x="2186.5" dy="17.4">述从中华文明的起源祖国境内远古居民时代到</tspan><tspan x="2186.5" dy="17.4">魏晋南北朝各个时期的兴衰过程及其经济、民</tspan><tspan x="2186.5" dy="17.4">族融合及文化的历史，共22课。</tspan></text></g>
<g id="p4-b222b"><rect class="b" x="2180" y="2795.3" width="282" height="115.4" rx="6"/><text class="t" x="2186.5" y="2814.8">本教学材以提高学生的综合素质，培养学生的<tspan x="2186.5" dy="17.4">创新精神和实践能力为目标，探索新的教学途</tspan><tspan x="2186.5" dy="17.4">径和教学方法。课文个性鲜明、异彩纷呈。克</tspan><tspan x="2186.5" dy="17.4">服了注重教法轻视学法的弊病。注意了学生活</tspan><tspan x="2186.5" dy="17.4">动的多样性，使课堂教学生动、活泼、饶有趣</tspan><tspan x="2186.5" dy="17.4">味。</tspan></text></g>
<g id="p4-b222c"><rect class="b" x="2180" y="2940.5" width="282" height="185" rx="6"/><text class="t" x="2186.5" y="2960">教材第一单元主要讲述人类文明的起源，共三<tspan x="2186.5" dy="17.4">课，从最早的人类讲起到华夏族的形成。使学</tspan><tspan x="2186.5" dy="17.4">生统分认识了我国境内远古居民的生活面貌从</tspan><tspan x="2186.5" dy="17.4">而激发学生的民族自豪感。第二单元主要讲述</tspan><tspan x="2186.5" dy="17.4">奴隶制社会的产生发展和衰亡及社会的变革，</tspan><tspan x="2186.5" dy="17.4">使学生深刻认识国家的产生和社会的变革对人</tspan><tspan x="2186.5" dy="17.4">类文明的进步的影响。第三单元主要讲述秦汉</tspan><tspan x="2186.5" dy="17.4">政治、经济与文化的发展，使学生从学习中认</tspan><tspan x="2186.5" dy="17.4">识秦汉对后世的影响。第四单元讲述了政权的</tspan><tspan x="2186.5" dy="17.4">分立和民族的融合。</tspan></text></g>
<g id="p4-b223"><rect class="b" x="2066" y="3181.3" width="128" height="29.4" rx="6"/><text class="t" x="2072.5" y="3200.8">3、教材重点、难点</text></g>
<g id="p4-b223a"><rect class="b" x="2220" y="3155.7" width="281" height="80.6" rx="6"/><text class="t" x="2226.5" y="3175.2">教材重点在于与历史发展的线索相关的重大事<tspan x="2226.5" dy="17.4">件和人物以及经济、文化的发展。难点在于向</tspan><tspan x="2226.5" dy="17.4">学生进行思想教育及对历史事件、人物的评价</tspan><tspan x="2226.5" dy="17.4">、自主学习能力的培养。</tspan></text></g>
<g id="p4-l3"><rect class="b" x="1832" y="3362.3" width="94" height="29.4" rx="6"/><text class="t" x="1838.5" y="3381.8">三、任务目标</text></g>
<g id="p4-b3"><rect class="b" x="1951" y="3267.1" width="282" height="219.8" rx="6"/><text class="t" x="1957.5" y="3286.6">增强学生对历史的学习兴趣，使学生掌握重要<tspan x="1957.5" dy="17.4">的历史事件，历史人物，历史现象，理解重要</tspan><tspan x="1957.5" dy="17.4">的历史概念，把握不同历史时期的基本特征及</tspan><tspan x="1957.5" dy="17.4">其发展趋势。培养学生识图、读史料的分析能</tspan><tspan x="1957.5" dy="17.4">力，引导学生学会收集、整理和运用相关的历</tspan><tspan x="1957.5" dy="17.4">史学习材料，启发学生对历史事物进行想象、</tspan><tspan x="1957.5" dy="17.4">联想和分析、综合、比较、概括等认知活动。</tspan><tspan x="1957.5" dy="17.4">注重培养学生的创新意识，以及与他人合作和</tspan><tspan x="1957.5" dy="17.4">参与社会实践活动的能力。增强学生的民族自</tspan><tspan x="1957.5" dy="17.4">豪感和爱国主义情感，弘扬世界各民族的优秀</tspan><tspan x="1957.5" dy="17.4">文化。完成中国历史七年级上册的历史教学任</tspan><tspan x="1957.5" dy="17.4">务。</tspan></text></g>
<g id="p4-l4"><rect class="b" x="1832" y="3560.3" width="120" height="29.4" rx="6"/><text class="t" x="1838.5" y="3579.8">四、主要教学措施</text></g>
<g id="p4-b41"><rect class="b" x="1979" y="3560.3" width="183" height="29.4" rx="6"/><text class="t" x="1985.5" y="3579.8">1.夯实基础，培养学生能力。</text></g>
<g id="p4-b41a"><rect class="b" x="2190" y="3517.3" width="281" height="115.4" rx="6"/><text class="t" x="2196.5" y="3536.8">这学期的教学内容是授完七年级中国历册。理<tspan x="2196.5" dy="17.4">清每个阶段的历史线索，概括每个阶段的历史</tspan><tspan x="2196.5" dy="17.4">特征，找到人类历史发展的规律，是本学期教</tspan><tspan x="2196.5" dy="17.4">学最核心的内容。这就必须夯实基础，引导学</tspan><tspan x="2196.5" dy="17.4">生自己来探索历史发展规律，从而培养学生的</tspan><tspan x="2196.5" dy="17.4">能力。</tspan></text></g>

<!-- RELATED -->
<g id="related"><rect class="b" x="1525" y="3915" width="321" height="62" rx="28"/><text class="q" x="1546" y="3941">新学期初一历史理论课教学计划相<tspan x="1546" dy="23">关文章：</tspan></text></g>
<g id="rel-1"><rect class="b" x="1873" y="3663.3" width="195" height="29.4" rx="6"/><text class="t" x="1879.5" y="3682.8">★ 新学期初中历史教学计划5篇</text></g>
<g id="rel-2"><rect class="b" x="1873" y="3722.9" width="214" height="29.4" rx="6"/><text class="t" x="1879.5" y="3742.4">★ 关于新学期历史七年级教学计划</text></g>
<g id="rel-3"><rect class="b" x="1873" y="3782.4" width="222" height="29.4" rx="6"/><text class="t" x="1879.5" y="3801.9">★ 新学期初中历史学科教学计划5篇</text></g>
<g id="rel-4"><rect class="b" x="1873" y="3842" width="249" height="29.4" rx="6"/><text class="t" x="1879.5" y="3861.5">★ 关于中学历史课程教学计划怎样写5篇</text></g>
<g id="rel-5"><rect class="b" x="1873" y="3901.5" width="245" height="29.4" rx="6"/><text class="t" x="1879.5" y="3921">★ 2021人教版七年级历史教学工作总结</text></g>
<g id="rel-6"><rect class="b" x="1873" y="3961.1" width="222" height="29.4" rx="6"/><text class="t" x="1879.5" y="3980.6">★ 新学期高一历史课程教学计划5篇</text></g>
<g id="rel-7"><rect class="b" x="1873" y="4020.6" width="245" height="29.4" rx="6"/><text class="t" x="1879.5" y="4040.1">★ 关于九年级人教版历史教学计划2021</text></g>
<g id="rel-8"><rect class="b" x="1873" y="4080.2" width="236" height="29.4" rx="6"/><text class="t" x="1879.5" y="4099.7">★ 关于九年级历史理论课教学计划5篇</text></g>
<g id="rel-9"><rect class="b" x="1873" y="4139.7" width="233" height="29.4" rx="6"/><text class="t" x="1879.5" y="4159.2">★ 关于中学历史教学计划怎样写2021</text></g>
<g id="rel-10"><rect class="b" x="1873" y="4199.3" width="164" height="29.4" rx="6"/><text class="t" x="1879.5" y="4218.8">★ 2020初一历史上册总结</text></g>

<g id="watermark" class="w">
<text transform="translate(620,520) rotate(-33)" dy="38">树图 shutu.cn</text>
<text transform="translate(1915,525) rotate(-33)" dy="38">树图 shutu.cn</text>
<text transform="translate(620,1527) rotate(-33)" dy="38">树图 shutu.cn</text>
<text transform="translate(1915,1532) rotate(-33)" dy="38">树图 shutu.cn</text>
<text transform="translate(620,2534) rotate(-33)" dy="38">树图 shutu.cn</text>
<text transform="translate(1915,2539) rotate(-33)" dy="38">树图 shutu.cn</text>
<text transform="translate(620,3541) rotate(-33)" dy="38">树图 shutu.cn</text>
<text transform="translate(1915,3546) rotate(-33)" dy="38">树图 shutu.cn</text>
<text transform="translate(620,4548) rotate(-33)" dy="38">树图 shutu.cn</text>
<text transform="translate(1915,4553) rotate(-33)" dy="38">树图 shutu.cn</text>
</g>
</g>
</svg>
